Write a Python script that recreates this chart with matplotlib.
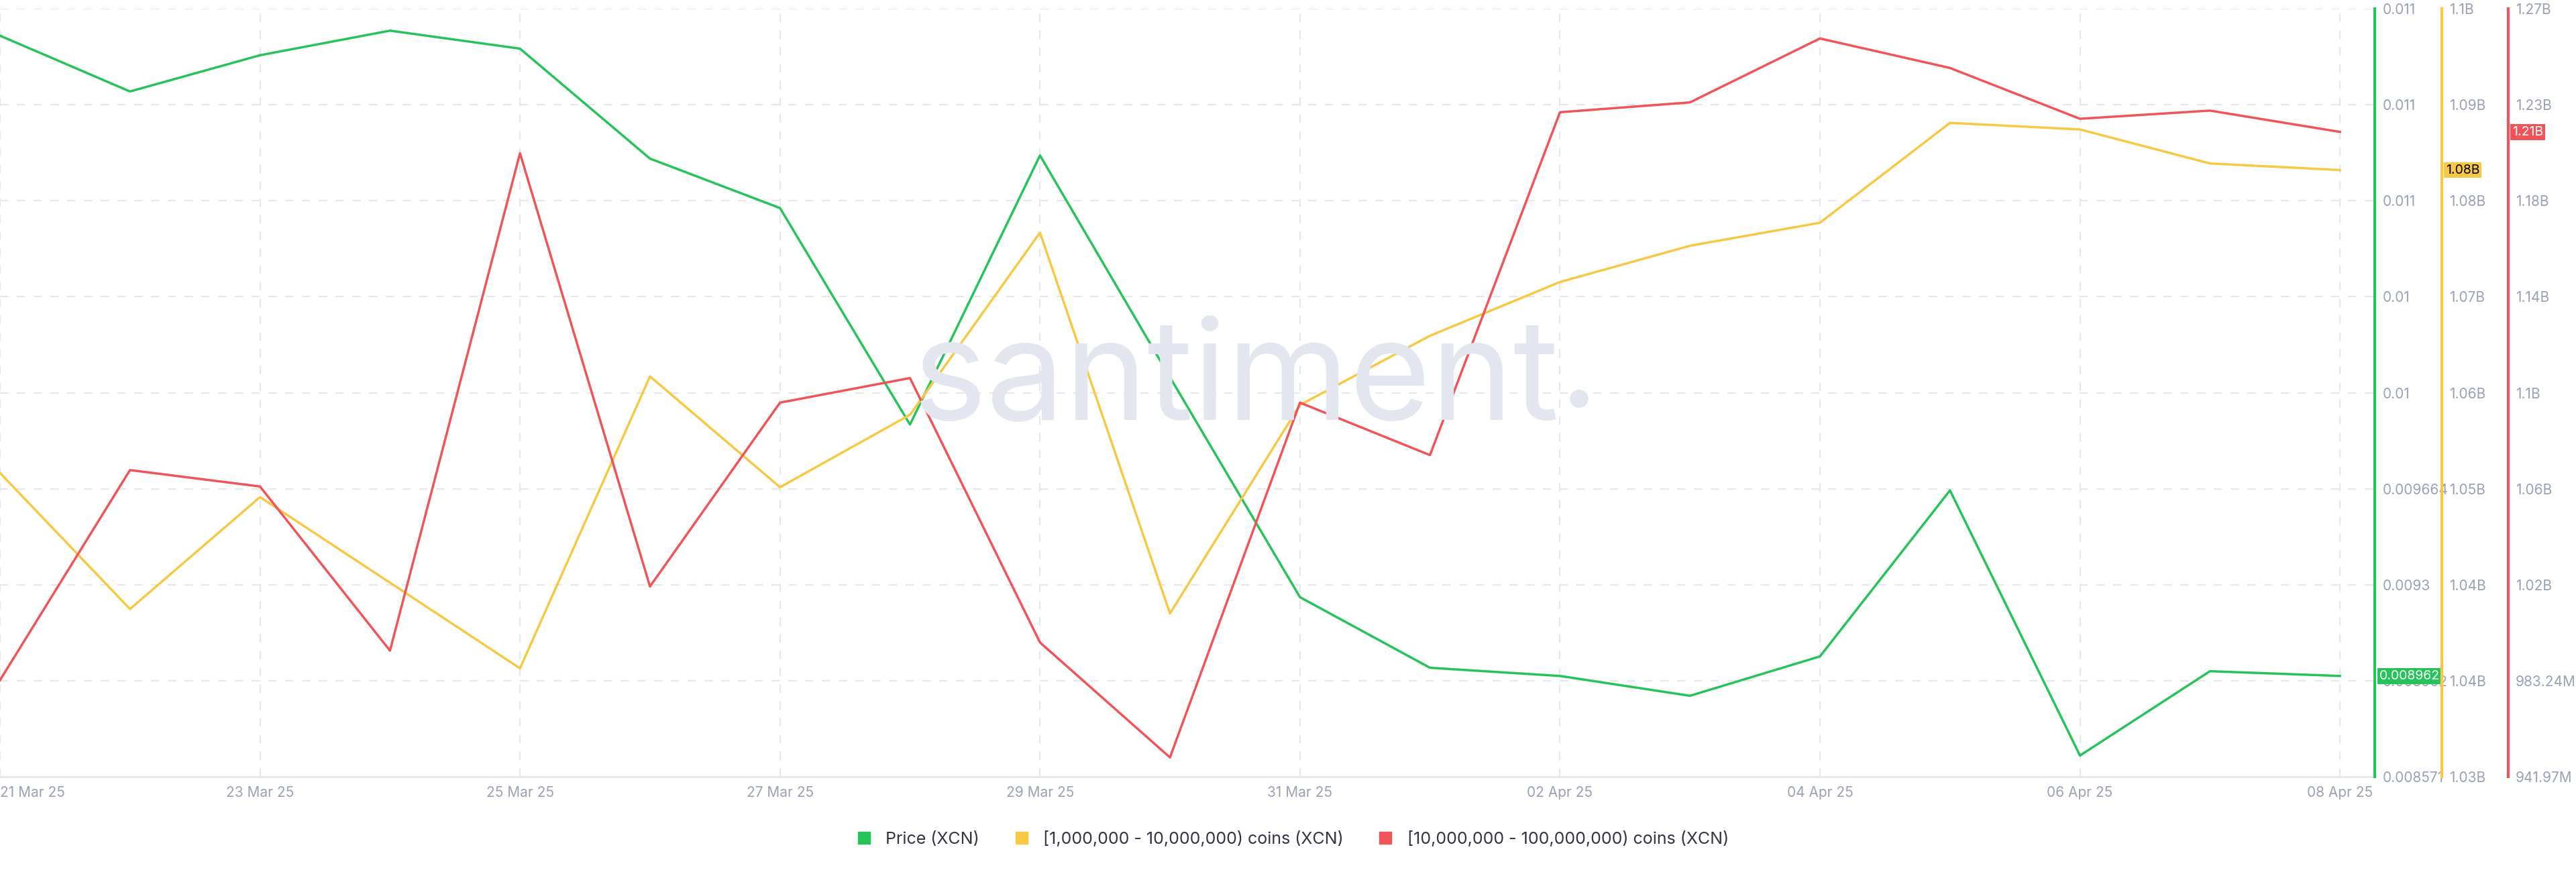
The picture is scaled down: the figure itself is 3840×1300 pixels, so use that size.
import matplotlib.pyplot as plt
import pandas as pd
import numpy as np

dates = pd.date_range("2025-03-21", "2025-04-08", freq="D")
price = [0.011375, 0.011164, 0.011301, 0.011394, 0.011326, 0.010910, 0.010723,
         0.009904, 0.010922, 0.010083, 0.009251, 0.008984, 0.008953, 0.008878,
         0.009027, 0.009655, 0.008652, 0.008971, 0.008953]
coins_1m = [1.0577, 1.0453, 1.0555, 1.0477, 1.0399, 1.0665, 1.0564, 1.0630,
            1.0796, 1.0449, 1.0639, 1.0702, 1.0751, 1.0784, 1.0805, 1.0896,
            1.0890, 1.0859, 1.0853]
coins_10m = [0.9833, 1.0730, 1.0660, 0.9959, 1.2083, 1.0233, 1.1018, 1.1123,
             0.9994, 0.9503, 1.1018, 1.0794, 1.2258, 1.2300, 1.2573, 1.2447,
             1.2230, 1.2265, 1.2174]

price_ticks = ["0.008571", "0.008962", "0.0093", "0.009664", "0.01", "0.01", "0.011", "0.011", "0.011"]
c1_ticks = ["1.03B", "1.04B", "1.04B", "1.05B", "1.06B", "1.07B", "1.08B", "1.09B", "1.1B"]
c10_ticks = ["941.97M", "983.24M", "1.02B", "1.06B", "1.1B", "1.14B", "1.18B", "1.23B", "1.27B"]

GREEN, YELLOW, RED = "#26c35a", "#f7c843", "#f05458"
GRAY = "#9aa1b5"
plt.rcParams['font.family'] = ['Inter', 'DejaVu Sans']

fig = plt.figure(figsize=(38.4, 13), dpi=100)
ax = fig.add_axes([0, 0.109, 0.922, 0.881])
fig.text(0.48, 0.56, "santiment", fontsize=150, color="#e3e6ef", ha="center",
         va="center", zorder=0)
fig.text(0.613, 0.575, ".", fontsize=150, color="#e3e6ef", ha="center", va="center")

x = np.arange(len(dates))
ax.set_xlim(0, len(dates) - 1 + 0.27)
ax.set_ylim(0, 8)
ax.set_yticks(range(9))
ax.set_yticklabels([])
ax.set_xticks(x[::2])
ax.set_xticklabels([d.strftime("%d %b %y") for d in dates[::2]], color=GRAY, fontsize=15)
ax.get_xticklabels()[0].set_ha("left")
ax.tick_params(axis="x", length=0, pad=10)
ax.tick_params(axis="y", length=0)
ax.grid(True, ls=(0, (6, 6)), color="#e6e7ec", lw=1.5)
for s in ["top", "left", "right"]:
    ax.spines[s].set_visible(False)
ax.spines["bottom"].set_color("#e6e7ec")
ax.spines["bottom"].set_linewidth(2)
ax.patch.set_alpha(0)


def side_axis(pos, lo, hi, color, labels, data, badge, badge_fc, badge_tc):
    a = ax.twinx()
    a.set_ylim(lo, hi)
    a.spines["right"].set_position(("axes", pos))
    a.spines["right"].set_color(color)
    a.spines["right"].set_linewidth(3)
    for s in ["top", "left", "bottom"]:
        a.spines[s].set_visible(False)
    a.set_yticks(np.linspace(lo, hi, 9))
    a.set_yticklabels(labels, color=GRAY, fontsize=15)
    a.tick_params(axis="y", length=0, pad=8)
    a.plot(x, data, color=color, lw=2.5)
    a.annotate(badge, (pos, data[-1]), xycoords=("axes fraction", "data"),
               xytext=(6, 0), textcoords="offset pixels", va="center",
               fontsize=14, color=badge_tc,
               bbox=dict(boxstyle="square,pad=0.15", fc=badge_fc, ec="none"))
    return a


side_axis(1.0, 0.008571, 0.011477, GREEN, price_ticks, price, "0.008962", GREEN, "white")
side_axis(1.028, 1.03, 1.10, YELLOW, c1_ticks, coins_1m, "1.08B", YELLOW, "black")
side_axis(1.056, 0.94197, 1.27, RED, c10_ticks, coins_10m, "1.21B", RED, "white")

handles = [plt.Line2D([], [], color=c, marker="s", ls="", markersize=13)
           for c in (GREEN, YELLOW, RED)]
fig.legend(handles, ["Price (XCN)", "[1,000,000 - 10,000,000) coins (XCN)",
                     "[10,000,000 - 100,000,000) coins (XCN)"],
           loc="center", bbox_to_anchor=(0.5, 0.038), ncol=3, frameon=False,
           fontsize=18, handletextpad=0.3, columnspacing=1.5, labelcolor="#333344")

fig.savefig("out.png", dpi=100)
